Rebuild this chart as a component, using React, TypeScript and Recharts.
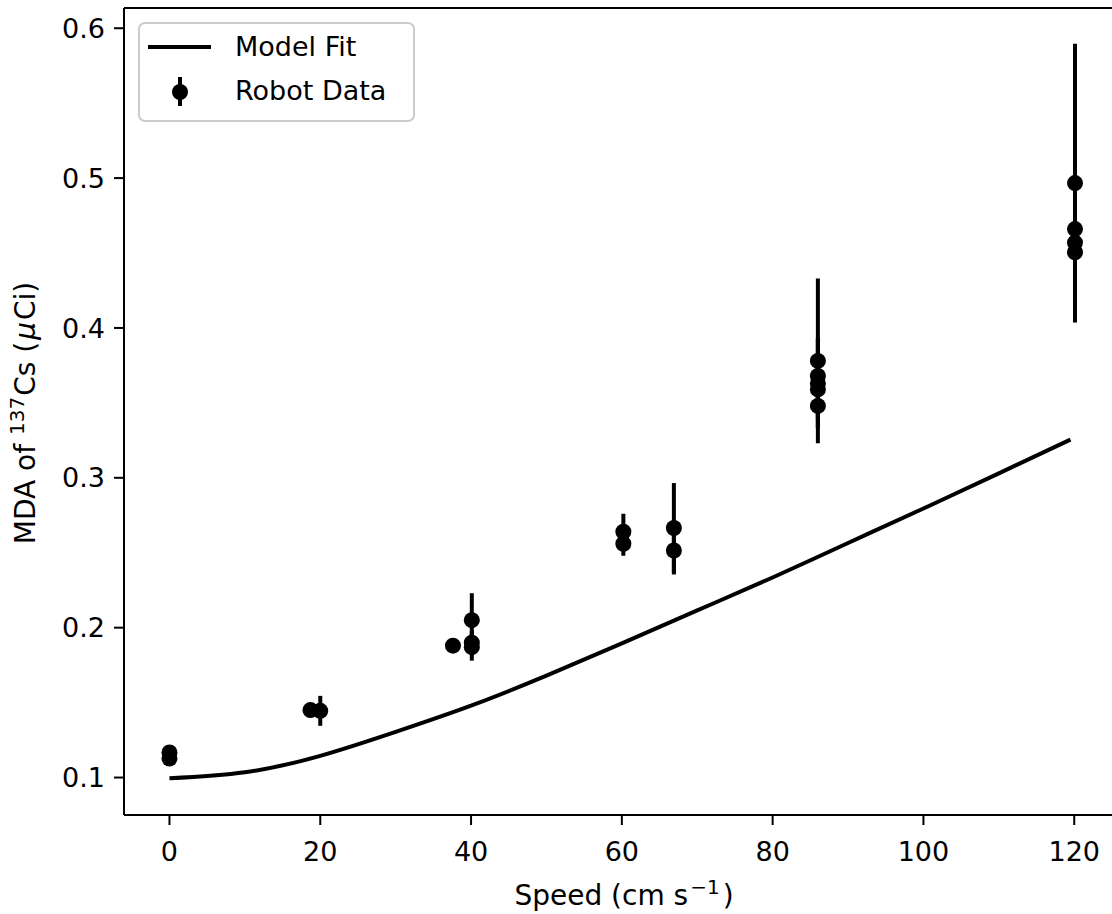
import React from 'react';
import {
  ComposedChart,
  Line,
  Scatter,
  ErrorBar,
  XAxis,
  YAxis,
  Legend,
  ReferenceLine
} from 'recharts';

// model curve
const fitSpeed = [0, 10, 20, 30, 40, 50, 60, 70, 80, 90, 100, 110, 119.5];
const fitMda = [0.0995, 0.1035, 0.1145, 0.1305, 0.148, 0.168, 0.1895, 0.2115, 0.2335, 0.2565, 0.2795, 0.303, 0.3255];

// robot measurements
const robotSpeed = [0, 0, 18.7, 20, 37.6, 40.1, 40.1, 40.1, 60.2, 60.2, 66.9, 66.9, 86, 86, 86, 86, 86, 120.1, 120.1, 120.1, 120.1];
const robotMda = [0.1167, 0.1127, 0.145, 0.1445, 0.188, 0.205, 0.19, 0.187, 0.264, 0.256, 0.2665, 0.2515, 0.378, 0.368, 0.363, 0.359, 0.348, 0.4967, 0.466, 0.457, 0.4505];
const robotErr = [0.003, 0.003, 0.004, 0.01, 0.003, 0.018, 0.008, 0.009, 0.012, 0.008, 0.03, 0.016, 0.055, 0.025, 0.03, 0.02, 0.015, 0.093, 0.046, 0.03, 0.03];

const xTicks = [0, 20, 40, 60, 80, 100, 120];
const yTicks = [0.1, 0.2, 0.3, 0.4, 0.5, 0.6];

const fitData = fitSpeed.map((x, i) => ({ x, y: fitMda[i] }));
const robotData = robotSpeed.map((x, i) => ({ x, y: robotMda[i], err: robotErr[i] }));

const FONT = '"DejaVu Sans", sans-serif';
const FS = 27;
const LABEL_FS = 28;

const Dot = (props: any) => {
  if (props.cx == null || props.cy == null) return null;
  return <circle cx={props.cx} cy={props.cy} r={8} fill="#000" />;
};

const XLabel = (props: any) => {
  const vb = props.viewBox;
  return (
    <text x={vb.x + vb.width / 2} y={905} textAnchor="middle" fontFamily={FONT} fontSize={LABEL_FS} fill="#000">
      Speed (cm s
      <tspan dx={2} dy={-11} fontSize={20}>−1</tspan>
      <tspan dx={3} dy={11}>)</tspan>
    </text>
  );
};

const YLabel = () => (
  <text
    x={35}
    y={413}
    transform="rotate(-90, 35, 413)"
    textAnchor="middle"
    fontFamily={FONT}
    fontSize={LABEL_FS}
    fill="#000"
  >
    MDA of
    <tspan dx={9} dy={-11} fontSize={20}>137</tspan>
    <tspan dx={1} dy={11}>Cs (</tspan>
    <tspan dx={2} fontStyle="italic">μ</tspan>
    <tspan dx={2}>Ci)</tspan>
  </text>
);

const LegendBox = () => (
  <svg width={277} height={100} style={{ display: 'block' }}>
    <rect x={1} y={1} width={275} height={98} rx={6} ry={6} fill="rgba(255,255,255,0.8)" stroke="#cccccc" strokeWidth={2} />
    <line x1={10} y1={25} x2={73} y2={25} stroke="#000" strokeWidth={4} />
    <text x={97} y={34} fontFamily={FONT} fontSize={FS} fill="#000">Model Fit</text>
    <line x1={42} y1={55} x2={42} y2={84} stroke="#000" strokeWidth={4} />
    <circle cx={42} cy={70} r={8} fill="#000" />
    <text x={97} y={78} fontFamily={FONT} fontSize={FS} fill="#000">Robot Data</text>
  </svg>
);

const App: React.FC = () => {
  return (
    <div style={{ position: 'fixed', left: 0, top: 0, width: 1112, height: 914, overflow: 'hidden', background: '#fff' }}>
      <ComposedChart width={1140} height={914} margin={{ top: 8, right: 16, left: 0, bottom: 0 }}>
        <XAxis
          dataKey="x"
          type="number"
          domain={[-6.03, 126.6]}
          ticks={xTicks}
          allowDataOverflow
          height={99}
          tickSize={10}
          tickMargin={17}
          axisLine={{ stroke: '#000', strokeWidth: 2 }}
          tickLine={{ stroke: '#000', strokeWidth: 2 }}
          tick={{ fill: '#000', fontSize: FS, fontFamily: FONT }}
          label={<XLabel />}
        />
        <YAxis
          type="number"
          domain={[0.075, 0.6135]}
          ticks={yTicks}
          allowDataOverflow
          width={124}
          tickSize={10}
          tickMargin={9}
          tickFormatter={(v: number) => v.toFixed(1)}
          axisLine={{ stroke: '#000', strokeWidth: 2 }}
          tickLine={{ stroke: '#000', strokeWidth: 2 }}
          tick={{ fill: '#000', fontSize: FS, fontFamily: FONT }}
          label={<YLabel />}
        />
        {/* top frame line */}
        <ReferenceLine y={0.6135} stroke="#000" strokeWidth={2} ifOverflow="visible" />
        <Legend
          layout="horizontal"
          verticalAlign="middle"
          align="center"
          content={() => <LegendBox />}
          wrapperStyle={{ position: 'absolute', left: 138, top: 22, width: 277, height: 100 }}
        />
        <Line
          data={fitData}
          dataKey="y"
          type="natural"
          stroke="#000"
          strokeWidth={4}
          dot={false}
          activeDot={false}
          isAnimationActive={false}
          name="Model Fit"
        />
        <Scatter data={robotData} dataKey="y" shape={<Dot />} isAnimationActive={false} name="Robot Data">
          <ErrorBar dataKey="err" direction="y" width={0} strokeWidth={4} stroke="#000" isAnimationActive={false} />
        </Scatter>
      </ComposedChart>
    </div>
  );
};

export default App;
